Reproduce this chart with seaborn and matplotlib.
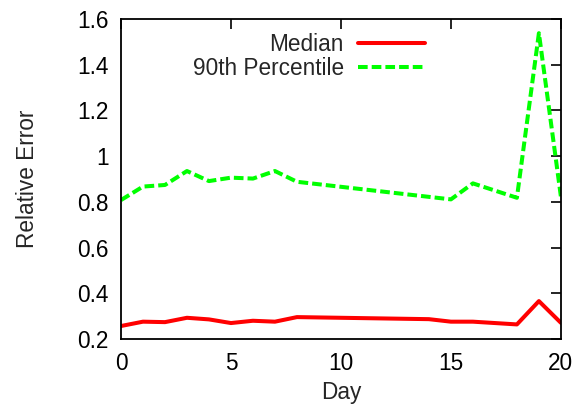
import matplotlib
matplotlib.use("Agg")
import matplotlib.pyplot as plt
import seaborn as sns
import pandas as pd

days = [0, 1, 2, 3, 4, 5, 6, 7, 8, 14, 15, 16, 18, 19, 20]
median = [0.257, 0.276, 0.274, 0.293, 0.286, 0.270, 0.280, 0.276, 0.296,
          0.287, 0.276, 0.276, 0.264, 0.366, 0.271]
p90 = [0.808, 0.867, 0.874, 0.935, 0.891, 0.906, 0.902, 0.935, 0.888,
       0.822, 0.811, 0.881, 0.818, 1.538, 0.823]
xticks = [0, 5, 10, 15, 20]
yticks = [0.2, 0.4, 0.6, 0.8, 1.0, 1.2, 1.4, 1.6]
ytick_labels = ["0.2", "0.4", "0.6", "0.8", "1", "1.2", "1.4", "1.6"]

sns.set_theme(style="white")
plt.rcParams['font.family'] = ['Liberation Sans', 'DejaVu Sans']

df_med = pd.DataFrame({"Day": days, "val": median})
df_p90 = pd.DataFrame({"Day": days, "val": p90})

fs = 16.3
fig = plt.figure(figsize=(5.85, 4.08), dpi=100)
ax = fig.add_axes([0.2068, 0.169, 0.752, 0.7844])

sns.lineplot(data=df_med, x="Day", y="val", ax=ax, color="#ff0000", lw=2.9,
             label="Median")
sns.lineplot(data=df_p90, x="Day", y="val", ax=ax, color="#00ff00", lw=2.9,
             label="90th Percentile", dashes=False)
ax.lines[1].set_dashes([2.4, 1.0])

ax.set_xlim(0, 20)
ax.set_ylim(0.2, 1.6)
ax.set_xticks(xticks)
ax.set_xticklabels([str(t) for t in xticks])
ax.set_yticks(yticks)
ax.set_yticklabels(ytick_labels)
ax.tick_params(direction="in", length=7, width=1.2, top=True, right=True,
               labelsize=fs, colors="black")
ax.tick_params(axis="y", pad=9)
ax.tick_params(axis="x", pad=9)
for s in ax.spines.values():
    s.set_color("black")
    s.set_linewidth(1.3)
ax.set_xlabel("Day", fontsize=fs, labelpad=5)
ax.set_ylabel("Relative Error", fontsize=fs, labelpad=27)

leg = ax.legend(loc="upper right", bbox_to_anchor=(0.738, 1.02), frameon=False,
                markerfirst=False, fontsize=fs, handlelength=2.95,
                labelspacing=0.05, handletextpad=0.65)
for t in leg.get_texts():
    t.set_ha("right")

fig.savefig("out.png", dpi=100)
